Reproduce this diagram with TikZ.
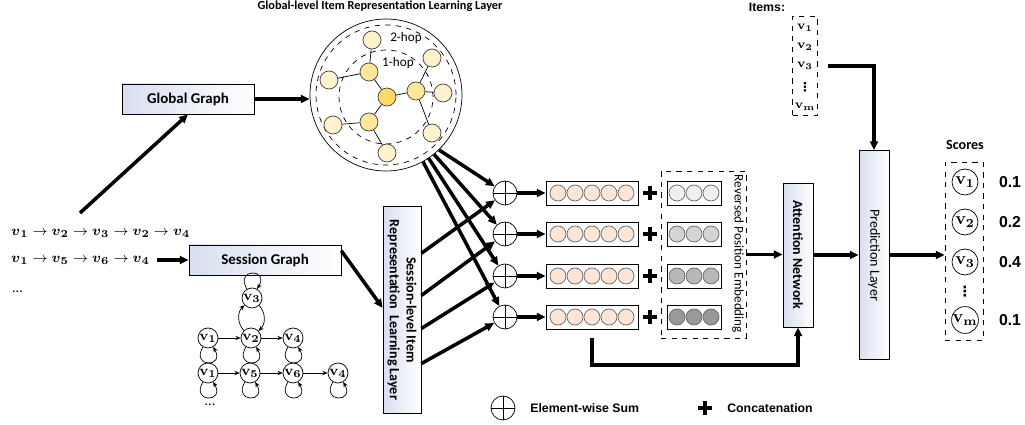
\documentclass[tikz,border=0pt]{standalone}
\usepackage[no-math]{fontspec}
\usepackage{amsmath}
\setmainfont{Carlito}
\newfontfamily\arialfont{Liberation Sans}
\newfontfamily\dejavufont{DejaVu Sans}
\usetikzlibrary{arrows.meta,positioning,calc}

\definecolor{hopLight}{HTML}{FFF2CC}
\definecolor{hopMid}{HTML}{FFE699}
\definecolor{hopDark}{HTML}{FFD966}
\definecolor{embPeach}{HTML}{FBE5D6}
\definecolor{boxBlue}{HTML}{D9DFF0}

\begin{document}
\begin{tikzpicture}[x=0.02cm, y=-0.02cm,
        arr/.style={-{Triangle[length=5pt,width=4.5pt]}, line width=2pt},
        fatarr/.style={arr, line width=2.4pt},
        sarr/.style={-{Stealth[length=3pt,width=2.5pt]}, thin},
        layer/.style={draw, thin, left color=boxBlue, right color=white,
            inner sep=0pt, align=center},
        gnode/.style={circle, draw=black!75, thin, minimum size=0.36cm, inner sep=0pt},
        snode/.style={circle, draw, thin, minimum size=0.4cm, inner sep=0pt,
            font=\fontsize{8.5}{8.5}\selectfont},
        dot/.style={circle, draw=black!60, thin, minimum size=0.32cm, inner sep=0pt},
        sum/.style={circle, draw, thin, fill=white, minimum size=0.48cm, inner sep=0pt,
            path picture={\draw (path picture bounding box.north) -- (path picture bounding box.south)
                (path picture bounding box.west) -- (path picture bounding box.east);}},
        cat/.style={minimum size=0.28cm, inner sep=0pt, fill=white,
            path picture={\draw[line width=2pt] (path picture bounding box.north) -- (path picture bounding box.south)
                (path picture bounding box.west) -- (path picture bounding box.east);}},
        dashbox/.style={draw, thin, dashed, inner sep=0pt},
        item/.style={inner sep=0pt, font=\fontsize{7}{7}\selectfont},
        vdot/.style={inner sep=0pt, font=\dejavufont\bfseries\fontsize{7}{7}\selectfont},
        txt/.style={font=\arialfont\bfseries\fontsize{7}{8}\selectfont}]
\useasboundingbox (0,0) rectangle (1025,425);

% input sessions
\node[anchor=west, font=\fontsize{8}{9}\selectfont] (seq1) at (5,233)
    {$\boldsymbol{v}_{\mathbf{1}} \rightarrow \boldsymbol{v}_{\mathbf{2}} \rightarrow \boldsymbol{v}_{\mathbf{3}} \rightarrow \boldsymbol{v}_{\mathbf{2}} \rightarrow \boldsymbol{v}_{\mathbf{4}}$};
\node[anchor=west, font=\fontsize{8}{9}\selectfont] (seq2) at (5,260)
    {$\boldsymbol{v}_{\mathbf{1}} \rightarrow \boldsymbol{v}_{\mathbf{5}} \rightarrow \boldsymbol{v}_{\mathbf{6}} \rightarrow \boldsymbol{v}_{\mathbf{4}}$};
\node[anchor=west, font=\fontsize{8}{9}\selectfont] (seqdots) at (6,292) {...};
\coordinate (seqtop) at (80,213);
\coordinate (seqend) at (157,260);

% global graph
\node[layer, minimum width=2.64cm, minimum height=0.6cm,
    font=\bfseries\fontsize{8.5}{10}\selectfont] (ggraph) at (188,99) {Global Graph};
\node[font=\bfseries\fontsize{7}{8}\selectfont] (gtitle) at (380,6)
    {Global-level Item Representation Learning Layer};
\node[circle, draw, thin, minimum size=3.04cm] (glob) at (386,95) {};
\draw[dashed, thin] (386,95) circle[radius=1.4cm];
\draw[dashed, thin] (386,97) circle[radius=0.94cm];
\node[font=\fontsize{7.5}{8}\selectfont] (hop2) at (406,38) {2-hop};
\node[font=\fontsize{7.5}{8}\selectfont] (hop1) at (398,63) {1-hop};
\foreach \n/\p/\c in {g0/{(387,97)}/hopDark, g1/{(369,72)}/hopMid, g2/{(416,91)}/hopMid,
        g3/{(369,122)}/hopMid, g4/{(372,40)}/hopLight, g5/{(329,80)}/hopLight,
        g6/{(432,58)}/hopLight, g7/{(443,93)}/hopLight, g8/{(432,133)}/hopLight,
        g9/{(333,125)}/hopLight, g10/{(387,153)}/hopLight}
    \node[gnode, fill=\c] (\n) at \p {};
\foreach \a/\b in {g1/g4, g1/g5, g1/g0, g0/g2, g0/g3, g2/g6, g2/g7, g2/g8, g3/g9, g3/g10}
    \draw[thin] (\a) -- (\b);

\draw[arr] (seqtop) -- (ggraph.south);
\draw[arr] (ggraph.east) -- (glob.west |- ggraph.east);

% session graph
\node[layer, minimum width=3.04cm, minimum height=0.6cm,
    font=\bfseries\fontsize{8.5}{10}\selectfont] (sgraph) at (265,260) {Session Graph};
\draw[arr] (seqend) -- (sgraph.west);
\node[snode] (n3) at (252,298) {$\mathbf{v}_{\mathbf{3}}$};
\node[snode] (a1) at (208,338) {$\mathbf{v}_{\mathbf{1}}$};
\node[snode] (a2) at (251,338) {$\mathbf{v}_{\mathbf{2}}$};
\node[snode] (a4) at (293,338) {$\mathbf{v}_{\mathbf{4}}$};
\node[snode] (b1) at (208,373) {$\mathbf{v}_{\mathbf{1}}$};
\node[snode] (b5) at (250,373) {$\mathbf{v}_{\mathbf{5}}$};
\node[snode] (b6) at (293,373) {$\mathbf{v}_{\mathbf{6}}$};
\node[snode] (b4) at (338,373) {$\mathbf{v}_{\mathbf{4}}$};
\node[font=\fontsize{8}{9}\selectfont] (sdots) at (210,405) {...};
\draw[sarr] (n3) to[out=120, in=60, looseness=6] (n3);
\draw[sarr] (n3) to[bend left=45] (a2);
\draw[sarr] (a2) to[bend left=45] (n3);
\foreach \a/\b in {a1/a2, a2/a4, b1/b5, b5/b6, b6/b4}
    \draw[sarr] (\a) -- (\b);
\foreach \a in {a1, a2, a4, b1, b5, b6, b4}
    \draw[sarr] (\a) to[out=-120, in=-60, looseness=6] (\a);

\node[layer, rotate=-90, minimum width=4.14cm, minimum height=0.76cm,
    font=\bfseries\fontsize{8}{9.5}\selectfont] (sess) at (402,310)
    {Session-level Item\\Representation~ Learning Layer};
\draw[arr] ($(sgraph.north east)!0.2!(sgraph.south east)$) -- ($(sess.south west)!0.49!(sess.south east)$);

% sums, embeddings, concatenation
\foreach \i/\y/\g in {1/193/black!6, 2/234/black!17, 3/276/black!28, 4/317/black!40} {
    \node[sum] (s\i) at (505,\y) {};
    \node[draw, thin, minimum width=1.84cm, minimum height=0.48cm] (emb\i) at (592,\y) {};
    \foreach \k in {0,...,4}
        \node[dot, fill=embPeach] (e\i\k) at (558+17*\k,\y) {};
    \node[cat] (cat\i) at (650,\y) {};
    \node[draw, thin, minimum width=1.08cm, minimum height=0.48cm] (pos\i) at (694,\y) {};
    \foreach \k in {0,1,2}
        \node[dot, fill=\g] (p\i\k) at (677+17*\k,\y) {};
    \draw[arr] (s\i) -- (emb\i);
}
\foreach \i/\a in {1/-46, 2/-51, 3/-56, 4/-61}
    \draw[arr] (glob.\a) -- (s\i);
\foreach \i/\f in {1/0.227, 2/0.43, 3/0.589, 4/0.758}
    \draw[arr] ($(sess.north west)!\f!(sess.north east)$) -- (s\i);

\node[dashbox, minimum width=1.7cm, minimum height=3.34cm] (posemb) at (703.5,254.5) {};
\node[rotate=-90, font=\fontsize{7.5}{8}\selectfont] (poslabel) at (738,254) {Reversed Position Embedding};

% attention and prediction
\node[layer, rotate=-90, minimum width=2.88cm, minimum height=0.6cm,
    font=\bfseries\fontsize{8}{9}\selectfont] (attn) at (798,255) {Attention Network};
\node[layer, rotate=-90, minimum width=4.18cm, minimum height=0.6cm,
    font=\fontsize{8}{9}\selectfont] (pred) at (874,255) {Prediction Layer};
\draw[arr] (posemb.east) -- (posemb.east -| attn.south);
\draw[arr] (attn.north) -- (attn.north -| pred.south);
\draw[fatarr] ([yshift=-5pt]emb4.south) -- ++(0,27) -| (attn.east);

% items
\node[txt] (itlabel) at (767,7) {Items:};
\node[dashbox, minimum width=0.5cm, minimum height=1.98cm] (items) at (805,66) {};
\foreach \i/\y/\t in {1/28/$\mathbf{v}_{\mathbf{1}}$, 2/47/$\mathbf{v}_{\mathbf{2}}$,
        3/66/$\mathbf{v}_{\mathbf{3}}$, m/107/$\mathbf{v}_{\mathbf{m}}$}
    \node[item] (it\i) at (805,\y) {\t};
\node[vdot] (itdots) at (805,87) {⋮};
\draw[fatarr] ($(items.east)+(10,0)$) -| (pred.west);

% scores
\node[font=\bfseries\fontsize{8}{9}\selectfont] (sclabel) at (965,145) {Scores};
\node[dashbox, minimum width=0.76cm, minimum height=3.56cm] (scores) at (964,251) {};
\foreach \i/\y/\s in {1/182/0.1, 2/222/0.2, 3/262/0.4, m/320/0.1} {
    \node[circle, draw, thin, minimum size=0.52cm, inner sep=0pt,
        font=\fontsize{10}{10}\selectfont] (sc\i) at (965,\y) {$\mathbf{v}_{\mathbf{\i}}$};
    \node[font=\arialfont\bfseries\fontsize{9}{10}\selectfont] (val\i) at (1010,\y) {\s};
}
\node[vdot, font=\dejavufont\bfseries\fontsize{8}{8}\selectfont] (scdots) at (965,292) {⋮};
\draw[arr] (pred.north) -- (pred.north -| scores.west);

% legend
\node[sum] (legsum) at (503,408) {};
\node[txt, right=5pt of legsum] (legsumtxt) {Element-wise Sum};
\node[cat] (legcat) at (705,408) {};
\node[txt, right=5pt of legcat] (legcattxt) {Concatenation};
\end{tikzpicture}
\end{document}
